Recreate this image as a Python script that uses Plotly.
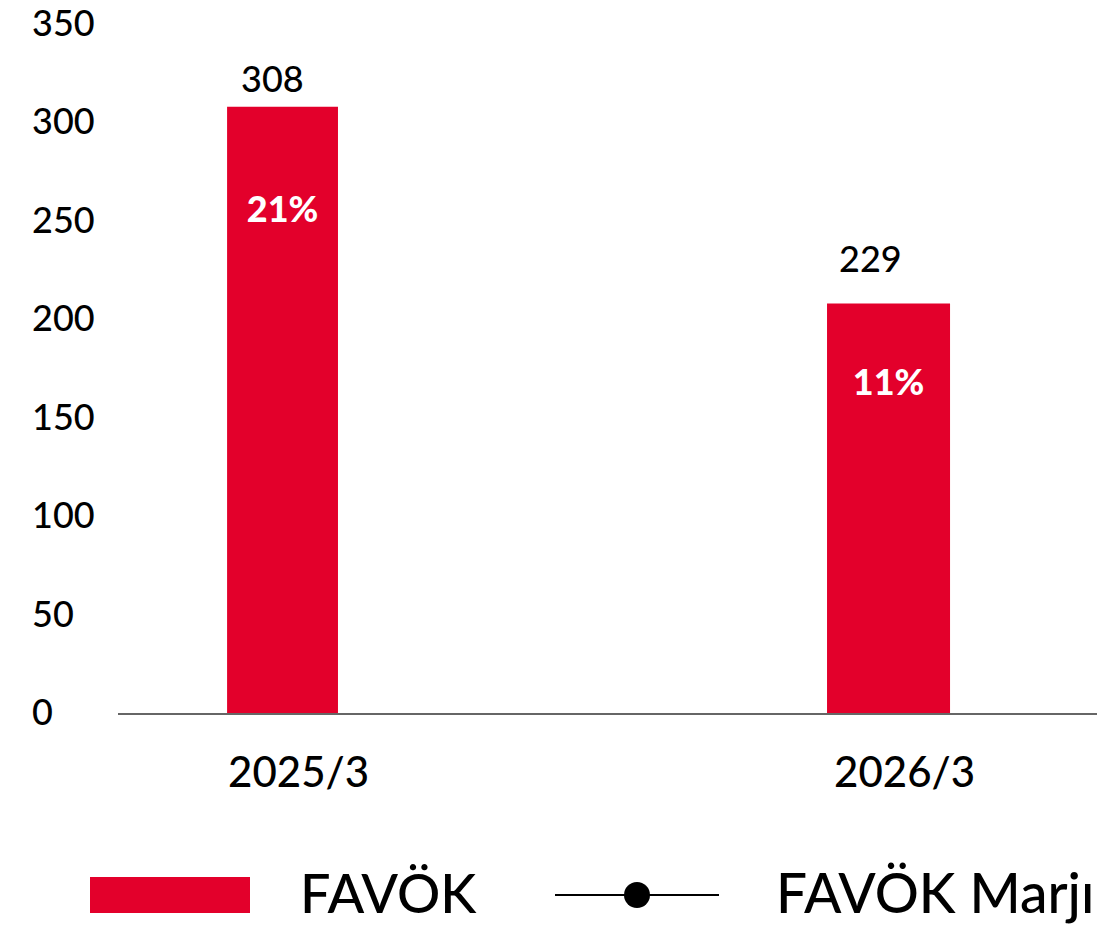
import plotly.graph_objects as go

# ---- data ----
categories = ["2025/3", "2026/3"]
favok_values = [308, 208]          # bar heights as drawn
favok_labels = ["308", "229"]      # value labels as printed
margin_values = [21, 11]           # FAVÖK Marjı (%)
y_ticks = [0, 50, 100, 150, 200, 250, 300, 350]

# ---- styling / layout constants ----
W, H = 1097, 927
L, R, T, B = 118, 0, 24, 214
PW, PH = W - L - R, H - T - B
RED = "#E3002B"
FONT = "Lato"
WT = 500

def px_x(p):
    return (p - L) / PW

def px_y(p):
    return (H - B - p) / PH

bar_widths = [0.183, 0.203]
label_shift_y = [5, 22]
label_shift_x = [-10, -18]

fig = go.Figure()
fig.add_trace(go.Bar(
    x=categories, y=favok_values, width=bar_widths,
    marker=dict(color=RED, line=dict(width=0)),
    showlegend=False, hoverinfo="skip",
))
fig.add_trace(go.Scatter(
    x=categories, y=margin_values, yaxis="y2", mode="text",
    text=[f"{v}%" for v in margin_values], textposition="middle center",
    textfont=dict(family=FONT, size=36, color="white", weight=900),
    showlegend=False, hoverinfo="skip",
))

annotations = []
for i, (c, v, lab) in enumerate(zip(categories, favok_values, favok_labels)):
    annotations.append(dict(
        x=c, y=v, xref="x", yref="y", text=lab, showarrow=False,
        xanchor="center", yanchor="bottom", yshift=label_shift_y[i], xshift=label_shift_x[i],
        font=dict(family=FONT, size=36, color="black", weight=WT),
    ))
for t in y_ticks:
    annotations.append(dict(
        x=px_x(30), y=t, xref="paper", yref="y", text=str(t), showarrow=False,
        xanchor="left", yanchor="middle", yshift=2,
        font=dict(family=FONT, size=36, color="black", weight=WT),
    ))

# legend (drawn manually)
shapes = [
    dict(type="rect", xref="paper", yref="paper",
         x0=px_x(90), x1=px_x(250), y0=px_y(913), y1=px_y(877),
         fillcolor=RED, line=dict(width=0)),
    dict(type="line", xref="paper", yref="paper",
         x0=px_x(555), x1=px_x(719), y0=px_y(895), y1=px_y(895),
         line=dict(color="black", width=2)),
    dict(type="circle", xref="paper", yref="paper",
         x0=px_x(624), x1=px_x(650), y0=px_y(908), y1=px_y(882),
         fillcolor="black", line=dict(width=0)),
]
annotations.append(dict(
    x=px_x(298), y=px_y(892), xref="paper", yref="paper", text="FAVÖK",
    showarrow=False, xanchor="left", yanchor="middle",
    font=dict(family=FONT, size=54, color="black", weight=WT),
))
annotations.append(dict(
    x=px_x(774), y=px_y(892), xref="paper", yref="paper", text="FAVÖK Marjı",
    showarrow=False, xanchor="left", yanchor="middle",
    font=dict(family=FONT, size=55, color="black", weight=WT),
))

fig.update_layout(
    width=W, height=H,
    margin=dict(l=L, r=R, t=T, b=B, pad=0),
    paper_bgcolor="white", plot_bgcolor="white",
    showlegend=False,
    xaxis=dict(
        type="category", range=[-0.2715, 1.344],
        showline=True, linecolor="#666666", linewidth=2,
        showgrid=False, zeroline=False, ticks="",
        tickfont=dict(family=FONT, size=42, color="black", weight=WT),
        ticklabelshift=16, ticklabelstandoff=22,
    ),
    yaxis=dict(
        range=[0, 350], showticklabels=False, showgrid=False,
        zeroline=False, showline=False, ticks="",
    ),
    yaxis2=dict(
        overlaying="y", range=[-7.9, 31.92], visible=False,
    ),
    shapes=shapes,
    annotations=annotations,
)

fig.write_html(
    "out.html",
    config={"displayModeBar": False},
    post_script="document.body.style.margin='0';document.body.style.overflow='hidden';",
)
